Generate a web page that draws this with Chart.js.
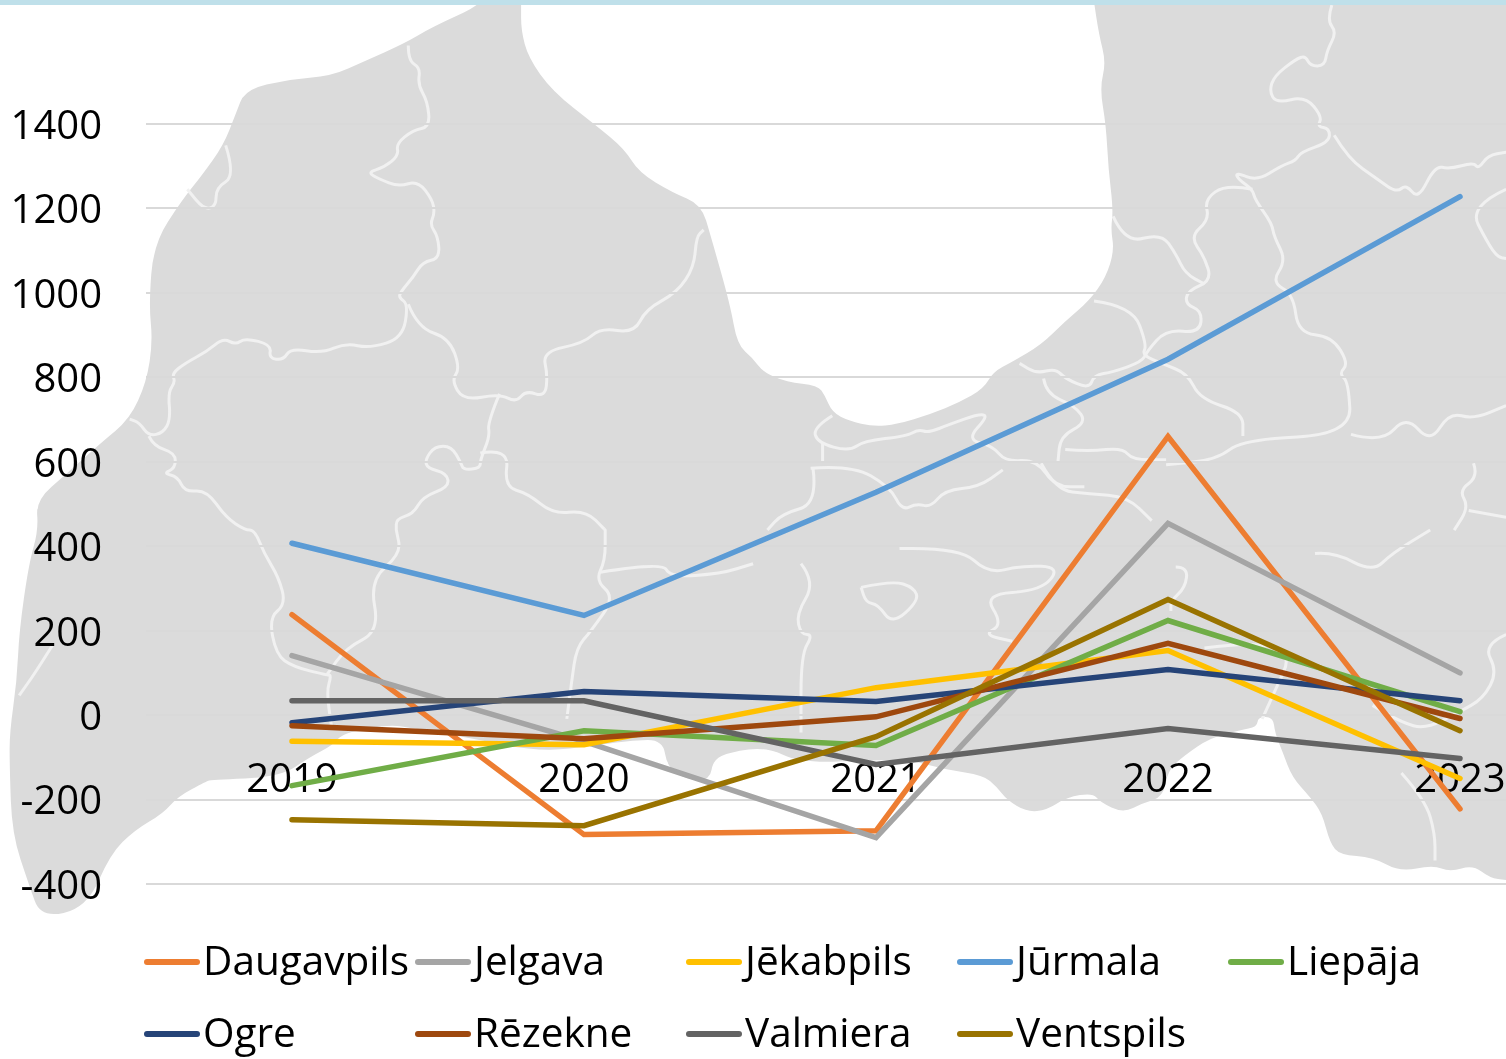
<!DOCTYPE html>
<html>
<head>
<meta charset="utf-8">
<style>
  html, body { margin: 0; padding: 0; background: #fff; overflow: hidden; width: 1506px; height: 1059px; }
  #wrap { position: relative; width: 1506px; height: 1059px; overflow: hidden; }
  #map { position: absolute; left: 0; top: 0; filter: blur(0.6px); }
  #myChart { position: absolute; left: 0; top: 0; }
  #topbar { position: absolute; left: 0; top: 0; width: 1506px; height: 5px; background: #bfe0ea; }
  #legend { position: absolute; left: 0; top: 0; font-family: "Open Sans", sans-serif; font-size: 40.5px; color: #000; }
  .item { position: absolute; height: 60px; line-height: 60px; white-space: nowrap; }
  .item i { position: absolute; left: 0; top: 28px; width: 56px; height: 6px; border-radius: 3px; }
  .item span { position: absolute; left: 59px; top: -1px; }
</style>
<script src="https://cdn.jsdelivr.net/npm/chart.js@4"></script>
</head>
<body>
<div id="wrap">
  <svg id="map" width="1506" height="1059"></svg>
  <canvas id="myChart" width="1620" height="1059"></canvas>
  <div id="topbar"></div>
  <div id="legend"></div>
</div>
<script>
const years = ["2019", "2020", "2021", "2022", "2023"];

const daugavpils = [238, -283, -274, 660, -222];
const jelgava = [141, -62, -290, 454, 100];
const jekabpils = [-62, -70, 65, 153, -150];
const jurmala = [407, 236, 528, 843, 1228];
const liepaja = [-167, -37, -72, 224, 8];
const ogre = [-18, 56, 32, 108, 34];
const rezekne = [-25, -56, -4, 170, -8];
const valmiera = [34, 34, -117, -32, -103];
const ventspils = [-248, -262, -51, 274, -37];

const yMin = -400;
const yMax = 1400;
const yStep = 200;

// background map (crop coordinates per quadrant)
const q1 = p => crop(0, 0, 2.082, 2.958, p);
const q2 = p => crop(753, 0, 2.082, 2.958, p);
const q3 = p => crop(0, 530, 2.082, 2.964, p);
const q4 = p => crop(753, 530, 2.082, 2.964, p);

function crop(ox, oy, sx, sy, p) {
    const out = [];
    for (let i = 0; i < p.length; i += 2) out.push([ox + p[i] / sx, oy + p[i + 1] / sy]);
    return out;
}

const outline = [].concat(
    q1([1000,0, 1000,15, 900,80, 840,130, 760,180, 690,225, 600,235, 510,265, 490,340, 465,430, 420,520, 380,590, 320,720, 310,900, 318,1010, 305,1130, 270,1240, 210,1310, 140,1400, 75,1480, 80,1568]),
    q3([60,100, 40,300, 35,450, 20,600, 20,700, 25,900, 60,1050, 85,1150, 180,1120, 230,960, 280,890, 340,840, 370,790, 430,745]),
    // repeated points keep the page corners square
    crop(0, 0, 1, 1, [210,780, 280,777, 310,757, 333,745, 343,733, 387,725, 407,727, 470,738, 540,752, 600,745, 633,740, 663,740, 667,767, 687,780, 710,780, 713,760, 730,752, 767,747, 800,763, 877,760, 910,760, 947,770, 983,775, 997,787, 1007,800, 1027,812, 1047,810, 1067,797, 1093,793, 1100,802, 1123,813, 1143,803, 1163,797, 1168,770, 1185,755, 1210,738, 1240,730, 1257,727, 1258,717, 1273,717, 1275,733, 1283,753, 1292,777, 1310,797, 1322,813, 1330,843, 1340,855, 1373,857, 1400,872, 1433,865, 1450,872, 1473,865, 1490,878, 1506,880, 1520,882, 1520,882, 1520,-5, 1520,-5, 1093,-5, 1093,-5]),
    q2([720,100, 735,185, 722,260, 735,370, 740,500, 750,620, 745,680, 752,740, 735,820, 700,890, 650,950, 600,1020, 540,1070, 500,1100, 480,1150, 430,1190, 370,1225, 300,1255, 250,1262, 200,1245, 165,1220, 150,1170, 135,1140, 70,1130, 20,1100, 0,1060]),
    q1([1535,1020, 1520,900, 1480,700, 1460,605, 1400,570, 1330,510, 1300,440, 1240,370, 1150,270, 1100,170, 1085,90, 1085,15, 1085,0])
);

const borders = [
    q1([850,135, 850,180, 875,200, 870,250, 890,300, 895,375, 860,385, 825,425, 830,460, 800,495, 765,510, 790,530, 830,552, 870,535, 900,590, 905,630, 895,665, 912,700, 915,765, 880,775, 860,820, 835,862, 830,880, 850,900, 838,1000, 770,1030, 720,1015, 670,1045, 605,1030, 590,1065, 560,1060, 565,1020, 510,1000, 490,1020, 465,1000, 430,1040, 385,1075, 358,1105, 365,1130, 350,1160, 355,1240, 340,1280, 310,1290, 290,1250, 270,1240]),
    q1([310,1290, 320,1320, 365,1340, 365,1385, 340,1400, 370,1410, 385,1455, 430,1450, 470,1530, 510,1568]).concat(q3([530,0, 550,70, 580,140, 595,220, 560,260, 575,370, 610,405, 680,430, 690,430, 680,480, 690,580])),
    q1([850,900, 870,970, 935,1000, 958,1090, 940,1125, 965,1185, 1040,1165, 1075,1190, 1095,1155, 1135,1175, 1140,1110, 1130,1040, 1215,1015, 1250,970, 1320,985, 1345,915, 1410,865, 1445,790, 1450,700, 1465,680]),
    q1([1040,1165, 1015,1250, 1020,1290, 1000,1360, 1000,1385, 965,1390, 960,1370, 940,1320, 905,1320, 885,1360, 890,1385, 930,1400, 935,1440, 880,1470, 860,1520, 825,1535, 825,1568]).concat(q3([825,0, 835,70, 770,150, 790,300, 720,350, 680,430])),
    q1([1000,1340, 1060,1325, 1050,1440, 1100,1460, 1150,1520, 1220,1510, 1260,1568]).concat(q3([1260,0, 1260,90, 1240,150, 1280,200, 1230,300, 1200,350, 1190,450, 1180,560])),
    q3([1250,125, 1380,95, 1395,140, 1500,130, 1568,100]),
    q1([470,430, 490,520, 450,555, 450,610, 425,620, 390,560]),
    q3([110,340, 75,420, 40,490]),
    q2([1205,15, 1195,60, 1215,95, 1195,150, 1190,195, 1160,195, 1150,165, 1130,175, 1085,225, 1075,270, 1090,305, 1150,285, 1185,345, 1175,375, 1200,380, 1200,420, 1140,450, 1130,475, 1100,490, 1050,535, 1005,510, 1010,530, 1040,560, 1045,590, 1080,660, 1085,700, 1110,770, 1080,835, 1125,870, 1135,985, 1205,995, 1240,1075, 1220,1105, 1240,1130, 1245,1285, 1020,1300, 965,1360, 860,1375]),
    q2([1245,1285, 1310,1310, 1360,1230, 1410,1310, 1450,1220, 1500,1240, 1568,1200]),
    q2([1210,400, 1240,470, 1300,530, 1340,570, 1360,545, 1385,590, 1420,490, 1450,500, 1500,480, 1510,500, 1530,460, 1568,450]),
    q2([1568,560, 1490,610, 1530,720, 1550,760, 1568,765]),
    q2([1040,560, 985,545, 940,590, 950,650, 910,700, 940,760, 955,830, 905,860, 900,900, 935,920, 930,985, 860,975, 820,1040, 810,1070, 750,1100, 710,1110, 700,1150, 650,1120, 630,1090, 590,1105, 555,1075]),
    q2([750,640, 775,720, 850,690, 880,750, 900,810, 940,840]),
    q2([710,890, 790,905, 820,1020, 810,1050, 850,1075, 905,1105, 930,1180, 1020,1220, 1020,1290]),
    q2([165,1230, 125,1265, 135,1310, 200,1335, 230,1305, 320,1290, 345,1270, 365,1280, 410,1255, 470,1225, 490,1230, 445,1300, 500,1320, 525,1365, 590,1360, 630,1440, 690,1440]),
    q2([145,1310, 145,1365]),
    q2([120,1385, 205,1375, 285,1440, 310,1510, 340,1490, 370,1500, 400,1450, 470,1440, 520,1390]),
    q2([605,1120, 610,1165, 670,1200, 695,1250, 640,1290, 635,1365]),
    q2([650,1330, 700,1335, 770,1325, 790,1360, 860,1360]),
    q2([600,1370, 630,1450, 700,1460, 780,1470, 830,1540]),
    q2([125,1385, 135,1490, 60,1520, 30,1568]),
    q2([1500,1370, 1510,1410, 1470,1450, 1490,1500, 1460,1568]),
    q2([1490,1510, 1568,1530]),
    q4([100,100, 130,155, 90,250, 100,310, 125,310, 100,370, 100,600]),
    q4([225,170, 290,150, 335,170, 345,210, 290,280, 260,220, 235,215, 225,170]),
    q4([305,55, 430,50, 490,130, 560,105, 640,110, 600,180, 480,190, 520,280, 480,310, 540,330]),
    q4([880,110, 905,110, 900,170, 870,210, 870,240]),
    q4([1170,70, 1210,65, 1290,125, 1330,70, 1410,0]),
    q4([940,350, 1140,310, 1070,530, 1060,560]),
    q4([1568,310, 1520,340, 1550,420, 1520,500, 1470,540, 1400,590, 1350,570, 1290,520]),
    q4([1350,720, 1400,800, 1420,900, 1420,980])
];

// rounded path through the traced points
function pathOf(pts, close) {
    let d = "M" + pts[0][0].toFixed(1) + " " + pts[0][1].toFixed(1);
    for (let i = 1; i < pts.length - 1; i++) {
        const mx = (pts[i][0] + pts[i + 1][0]) / 2;
        const my = (pts[i][1] + pts[i + 1][1]) / 2;
        d += "Q" + pts[i][0].toFixed(1) + " " + pts[i][1].toFixed(1) + " " + mx.toFixed(1) + " " + my.toFixed(1);
    }
    const last = pts[pts.length - 1];
    return d + "L" + last[0].toFixed(1) + " " + last[1].toFixed(1) + (close ? "Z" : "");
}

let svg = '<path d="' + pathOf(outline, true) + '" fill="#dbdbdb"/>';
borders.forEach(b => {
    svg += '<path d="' + pathOf(b, false) + '" fill="none" stroke="#f1f1f1" stroke-width="3" stroke-linejoin="round"/>';
});
document.getElementById("map").innerHTML = svg;

const seriesNames = ["Daugavpils", "Jelgava", "Jēkabpils", "Jūrmala", "Liepāja", "Ogre", "Rēzekne", "Valmiera", "Ventspils"];
const seriesValues = [daugavpils, jelgava, jekabpils, jurmala, liepaja, ogre, rezekne, valmiera, ventspils];
const seriesColors = ["#ED7D31", "#A5A5A5", "#FFC000", "#5B9BD5", "#70AD47", "#264478", "#9E480E", "#636363", "#997300"];

const data = {
    labels: years,
    datasets: seriesNames.map((name, i) => ({
        label: name,
        data: seriesValues[i],
        borderColor: seriesColors[i],
        backgroundColor: seriesColors[i],
        borderWidth: 5.5,
        borderCapStyle: "round",
        borderJoinStyle: "miter",
        pointRadius: 0,
        tension: 0,
        // first series at the bottom, Ventspils on top
        order: seriesNames.length - i
    }))
};

const config = {
    type: "line",
    data: data,
    options: {
        responsive: false,
        animation: false,
        events: [],
        layout: { padding: { left: 0, right: 14, top: 124, bottom: 175 } },
        scales: {
            x: {
                position: { y: 0 },
                offset: true,
                grid: { display: false },
                border: { display: false },
                ticks: {
                    color: "#000",
                    padding: 33,
                    maxRotation: 0,
                    font: { family: "Open Sans", size: 40 }
                }
            },
            y: {
                min: yMin,
                max: yMax,
                afterFit: function (scale) { scale.width = 146; },
                grid: { color: "#d9d9d9", lineWidth: 2, drawTicks: false },
                border: { display: false },
                ticks: {
                    stepSize: yStep,
                    color: "#000",
                    padding: 44,
                    labelOffset: 3.5,
                    font: { family: "Open Sans", size: 40 },
                    callback: function (value) { return String(value); }
                }
            }
        },
        plugins: {
            legend: { display: false },
            title: { display: false },
            tooltip: { enabled: false }
        }
    }
};

const myChart = new Chart(document.getElementById("myChart"), config);

// Excel style legend: fixed columns, two rows
const legendEl = document.getElementById("legend");
myChart.data.datasets.forEach((ds, i) => {
    const item = document.createElement("div");
    item.className = "item";
    item.style.left = (144 + (i % 5) * 271) + "px";
    item.style.top = (931 + Math.floor(i / 5) * 72) + "px";
    item.innerHTML = '<i style="background:' + ds.borderColor + '"></i><span>' + ds.label + '</span>';
    legendEl.appendChild(item);
});
</script>
</body>
</html>
